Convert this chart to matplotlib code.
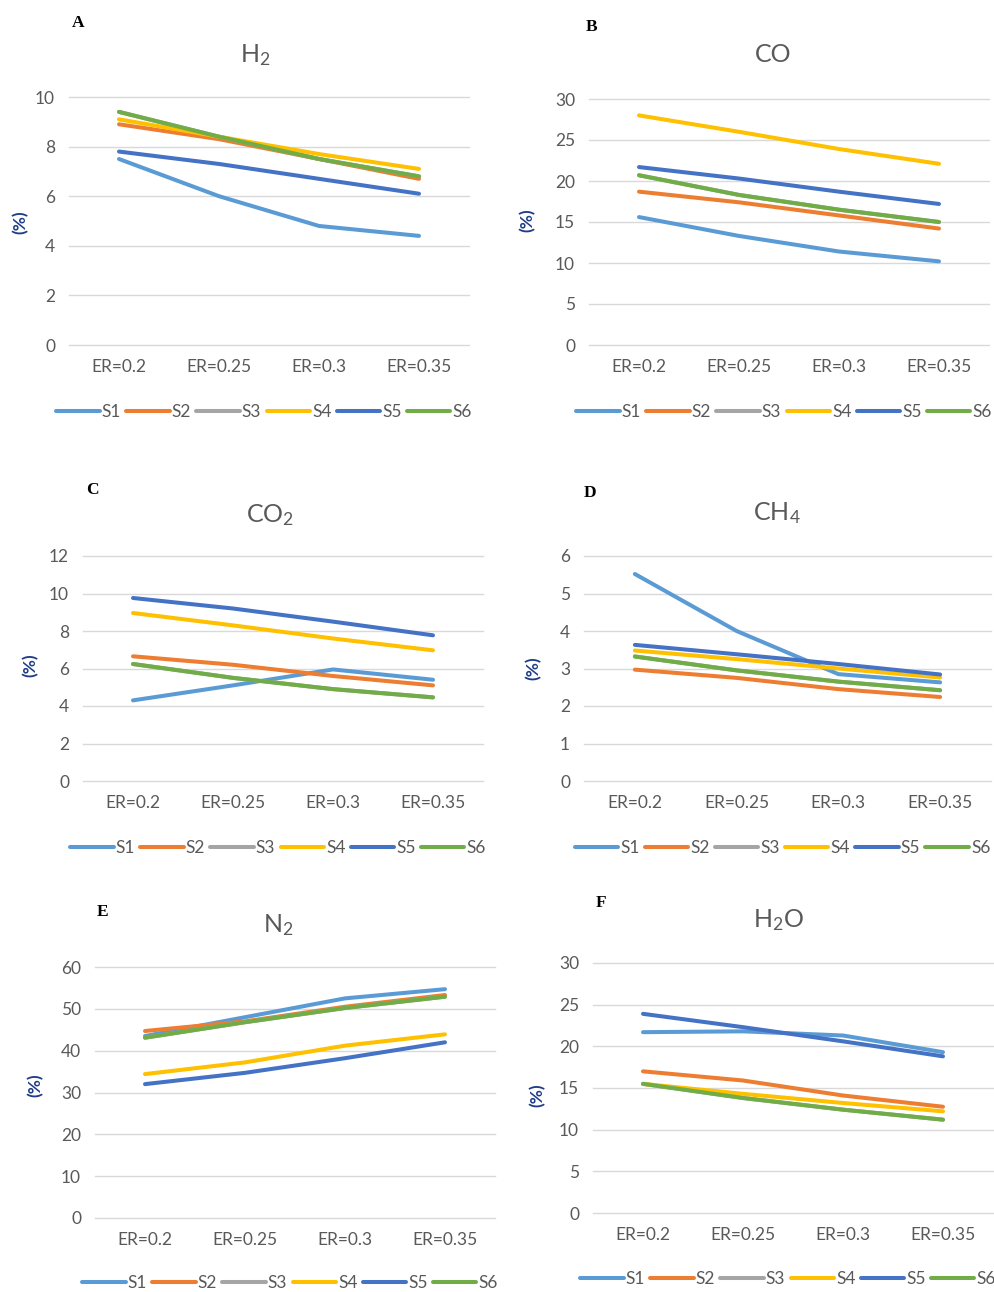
import matplotlib
matplotlib.use("Agg")
import matplotlib.pyplot as plt

plt.rcParams['font.family'] = ['Lato', 'DejaVu Sans']
plt.rcParams['mathtext.fontset'] = 'custom'
plt.rcParams['mathtext.rm'] = 'Lato'
plt.rcParams['mathtext.it'] = 'Lato'

# data
cats = ['ER=0.2', 'ER=0.25', 'ER=0.3', 'ER=0.35']
series = ['S1', 'S2', 'S3', 'S4', 'S5', 'S6']
colors = ['#5B9BD5', '#ED7D31', '#A5A5A5', '#FFC000', '#4472C4', '#70AD47']

# S3 is never visible in the original, it sits under another series
h2 = [[7.5, 6.0, 4.8, 4.4],
      [8.9, 8.3, 7.5, 6.7],
      [9.4, 8.4, 7.5, 6.8],
      [9.1, 8.4, 7.7, 7.1],
      [7.8, 7.3, 6.7, 6.1],
      [9.4, 8.4, 7.5, 6.8]]
co = [[15.6, 13.3, 11.4, 10.2],
      [18.7, 17.4, 15.8, 14.2],
      [20.7, 18.3, 16.5, 15.0],
      [28.0, 26.0, 23.9, 22.1],
      [21.7, 20.3, 18.7, 17.2],
      [20.7, 18.3, 16.5, 15.0]]
co2 = [[4.3, 5.1, 5.95, 5.4],
       [6.65, 6.2, 5.6, 5.1],
       [6.24, 5.5, 4.9, 4.46],
       [8.96, 8.3, 7.6, 6.97],
       [9.76, 9.2, 8.5, 7.77],
       [6.24, 5.5, 4.9, 4.46]]
ch4 = [[5.52, 4.0, 2.85, 2.63],
       [2.97, 2.75, 2.45, 2.24],
       [3.32, 2.95, 2.65, 2.42],
       [3.48, 3.25, 3.0, 2.76],
       [3.63, 3.38, 3.12, 2.84],
       [3.32, 2.95, 2.65, 2.42]]
n2 = [[43.5, 48.0, 52.5, 54.7],
      [44.7, 47.0, 50.5, 53.3],
      [43.1, 46.8, 50.2, 52.9],
      [34.4, 37.2, 41.2, 43.9],
      [32.0, 34.7, 38.2, 42.0],
      [43.1, 46.8, 50.2, 52.9]]
h2o = [[21.7, 21.8, 21.3, 19.3],
       [17.0, 15.9, 14.1, 12.75],
       [15.5, 13.8, 12.4, 11.2],
       [15.5, 14.3, 13.2, 12.2],
       [23.9, 22.3, 20.6, 18.8],
       [15.5, 13.8, 12.4, 11.2]]

W, H = 994, 1292
fig = plt.figure(figsize=(W / 100, H / 100), dpi=100)

# letter, title, data, ymax, ystep, plot box (x0, x1, ytop, ybottom) in px,
# title pos, letter pos, ylabel pos, legend y
panels = [
    ('A', 'H$_2$', h2, 10, 2, (69, 469, 97, 345), (255, 55), (78, 23), (20, 222), 412),
    ('B', 'CO', co, 30, 5, (589, 989, 99, 345), (773, 55), (592, 27), (527, 220), 412),
    ('C', 'CO$_2$', co2, 12, 2, (83, 483, 556, 781), (270, 515), (92, 490), (30, 665), 848),
    ('D', 'CH$_4$', ch4, 6, 1, (584, 991, 556, 781), (777, 513), (590, 493), (533, 668), 848),
    ('E', 'N$_2$', n2, 60, 10, (95, 495, 967, 1218), (278, 925), (103, 912), (35, 1085), 1283),
    ('F', 'H$_2$O', h2o, 30, 5, (593, 993, 963, 1213), (778, 920), (601, 903), (537, 1095), 1279),
]

for letter, title, data, ymax, step, box, tpos, lpos, ypos, legy in panels:
    x0, x1, yt, yb = box
    ax = fig.add_axes([x0 / W, 1 - yb / H, (x1 - x0) / W, (yb - yt) / H])
    x = range(len(cats))
    for vals, name, c in zip(data, series, colors):
        ax.plot(x, vals, color=c, lw=2.9, label=name, solid_capstyle='round')
    ax.set_xlim(-0.5, len(cats) - 0.5)
    ax.set_ylim(0, ymax)
    ax.set_yticks(range(0, ymax + 1, step))
    ax.set_xticks(list(x))
    ax.set_xticklabels(cats)
    ax.yaxis.grid(True, color='#D9D9D9', lw=1)
    ax.set_axisbelow(True)
    for s in ax.spines.values():
        s.set_visible(False)
    ax.tick_params(axis='x', length=0, pad=10, labelsize=12.5, labelcolor='#595959')
    ax.tick_params(axis='y', length=0, pad=10, labelsize=12.5, labelcolor='#595959')
    for gl in ax.get_ygridlines():
        gl.set_clip_on(False)

    fig.text(tpos[0] / W, 1 - tpos[1] / H, title, fontsize=18, color='#595959',
             ha='center', va='center')
    fig.text(lpos[0] / W, 1 - lpos[1] / H, letter, fontsize=12.5, fontweight='bold',
             family='Liberation Serif', ha='center', va='center')
    fig.text(ypos[0] / W, 1 - ypos[1] / H, '(%)', fontsize=12.5, fontweight='bold',
             color='#1F3C88', rotation=90, ha='center', va='center')

    ax.legend(loc='center', bbox_to_anchor=((x0 + x1) / 2 / W - 0.005, 1 - legy / H),
              bbox_transform=fig.transFigure, ncol=6, frameon=False,
              fontsize=12.5, handlelength=2.5, handletextpad=0.12,
              columnspacing=0.3, labelcolor='#595959')

fig.savefig('out.png', dpi=100)
